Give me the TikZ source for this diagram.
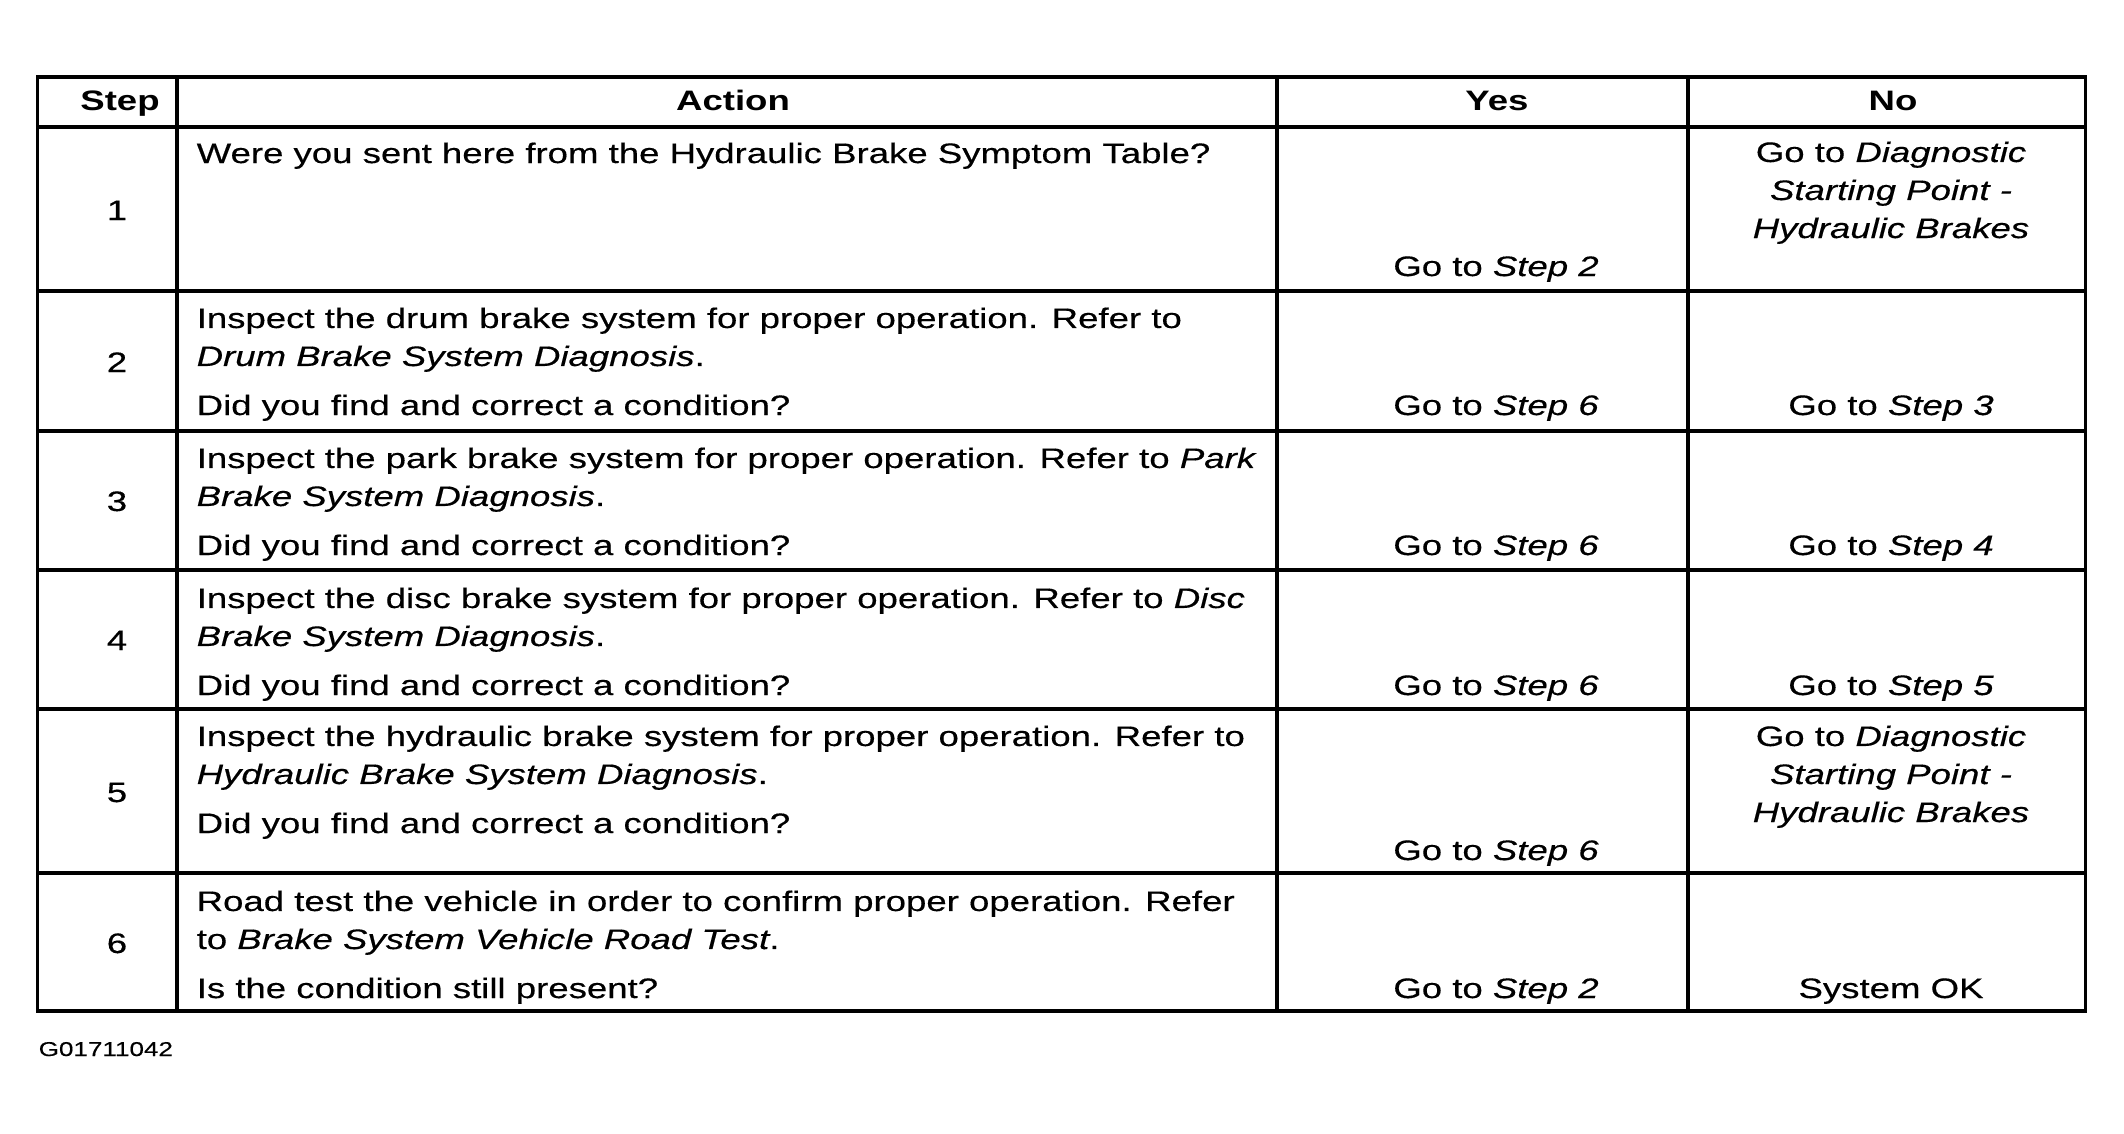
\documentclass[tikz,border=0pt]{standalone}
\usepackage{fontspec}
\setmainfont{Liberation Sans}[FakeStretch=1.30,
  UprightFeatures={FakeBold=0.4}, ItalicFeatures={FakeBold=0.4}]
\usepackage{tikz}

\begin{document}
\begin{tikzpicture}[x=0.01cm, y=-0.01cm,
  rule/.style={line width=1.1pt},
  vrule/.style={line width=0.9pt},
  txt/.style={inner sep=0, font=\fontsize{8pt}{10.81pt}\selectfont},
  act/.style={txt, anchor=base west, align=left},
  ctr/.style={txt, anchor=base, align=center},
  head/.style={ctr, font=\fontsize{8pt}{10.81pt}\selectfont\bfseries}]
\useasboundingbox (0,0) rectangle (2124,1133);

\draw[rule] (37.5,77) rectangle (2085.5,1011);
\foreach \y in {127,291,431,570,709,873}
  \draw[rule] (37.5,\y) -- (2085.5,\y);
\foreach \x in {177,1277,1688}
  \draw[vrule] (\x,77) -- (\x,1011);

\node[head] (hstep) at (120,110.5) {Step};
\node[head] (hact) at (733,110.5) {Action};
\node[head] (hyes) at (1497,110.5) {Yes};
\node[head] (hno) at (1893,110.5) {No};

\node[ctr] (step1) at (117,220) {1};
\node[act] (act1) at (196,163) {Were you sent here from the Hydraulic Brake Symptom Table?};
\node[ctr] (yes1) at (1496,276) {Go to \textit{Step 2}};
\node[ctr] (no1) at (1891,238) {Go to \textit{Diagnostic}\\\textit{Starting Point -}\\\textit{Hydraulic Brakes}};

\node[ctr] (step2) at (117,372) {2};
\node[act] (act2) at (196,415) {Inspect the drum brake system for proper operation. Refer to\\\textit{Drum Brake System Diagnosis}.\\[0.11cm]Did you find and correct a condition?};
\node[ctr] (yes2) at (1496,415) {Go to \textit{Step 6}};
\node[ctr] (no2) at (1891,415) {Go to \textit{Step 3}};

\node[ctr] (step3) at (117,511) {3};
\node[act] (act3) at (196,555) {Inspect the park brake system for proper operation. Refer to \textit{Park}\\\textit{Brake System Diagnosis}.\\[0.11cm]Did you find and correct a condition?};
\node[ctr] (yes3) at (1496,555) {Go to \textit{Step 6}};
\node[ctr] (no3) at (1891,555) {Go to \textit{Step 4}};

\node[ctr] (step4) at (117,650) {4};
\node[act] (act4) at (196,695) {Inspect the disc brake system for proper operation. Refer to \textit{Disc}\\\textit{Brake System Diagnosis}.\\[0.11cm]Did you find and correct a condition?};
\node[ctr] (yes4) at (1496,695) {Go to \textit{Step 6}};
\node[ctr] (no4) at (1891,695) {Go to \textit{Step 5}};

\node[ctr] (step5) at (117,802) {5};
\node[act] (act5) at (196,833) {Inspect the hydraulic brake system for proper operation. Refer to\\\textit{Hydraulic Brake System Diagnosis}.\\[0.11cm]Did you find and correct a condition?};
\node[ctr] (yes5) at (1496,860) {Go to \textit{Step 6}};
\node[ctr] (no5) at (1891,822) {Go to \textit{Diagnostic}\\\textit{Starting Point -}\\\textit{Hydraulic Brakes}};

\node[ctr] (step6) at (117,953) {6};
\node[act] (act6) at (196,998) {Road test the vehicle in order to confirm proper operation. Refer\\to \textit{Brake System Vehicle Road Test}.\\[0.11cm]Is the condition still present?};
\node[ctr] (yes6) at (1496,998) {Go to \textit{Step 2}};
\node[ctr] (no6) at (1891,998) {System OK};

\node[inner sep=0, anchor=base west, font=\fontsize{5.7pt}{7pt}\selectfont] (fig) at (38,1056) {G01711042};

\end{tikzpicture}
\end{document}
